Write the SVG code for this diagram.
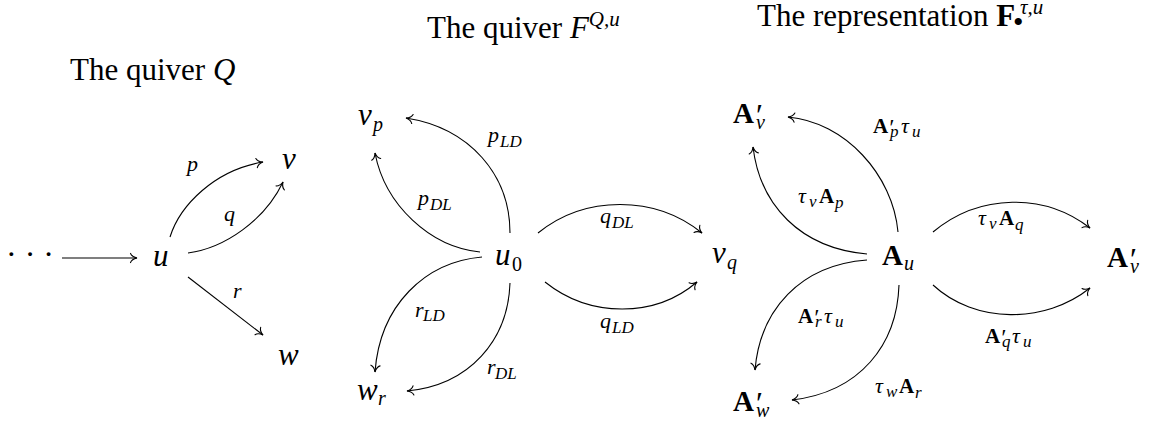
<svg xmlns="http://www.w3.org/2000/svg" width="1153" height="427" viewBox="0 0 1153 427">
<style>
text { font-family: "Liberation Serif", "Times New Roman", serif; fill: #000; }
.title { font-size: 31px; }
.m { font-size: 31px; }
.bm { font-size: 29px; font-weight: bold; }
.l { font-size: 22px; }
.bl { font-size: 21px; font-weight: bold; }
.i { font-style: italic; }
.b { font-weight: bold; font-style: normal; }
.s { font-size: 20px; font-style: italic; font-weight: normal; }
.ls { font-size: 17px; font-style: italic; font-weight: normal; }
.pr { font-size: 32px; font-style: italic; font-weight: normal; }
.lpr { font-size: 23px; font-style: italic; font-weight: normal; }
.edge { fill: none; stroke: #000; stroke-width: 1.1; marker-end: url(#to); }
</style>
<defs>
<marker id="to" viewBox="-9 -7 11 14" refX="0" refY="0" markerWidth="11" markerHeight="14" markerUnits="userSpaceOnUse" orient="auto">
<path d="M-6.5,-4.6 C-5.5,-1.8 -2.2,-0.5 0,0 C-2.2,0.5 -5.5,1.8 -6.5,4.6" fill="none" stroke="#000" stroke-width="1.1" stroke-linecap="round"/>
</marker>
</defs>
<rect width="1153" height="427" fill="#fff"/>

<g id="titles">
<text class="title" x="70" y="80">The quiver <tspan class="i">Q</tspan></text>
<text class="title" x="427" y="38">The quiver <tspan class="i">F</tspan><tspan class="i" font-size="21" dy="-12">Q,u</tspan></text>
<text class="title" x="757" y="26">The representation <tspan class="b">F</tspan><tspan font-size="30" x="1013" dy="6">•</tspan><tspan class="i" font-size="21" x="1020" dy="-18">τ,u</tspan></text>
</g>

<!-- Quiver Q -->
<g id="n-dots"><text x="6" y="265" style="font-size:32px">· · ·</text></g>
<g id="n-u"><text class="m i" x="153" y="266">u</text></g>
<g id="n-v"><text class="m i" x="282" y="169">v</text></g>
<g id="n-w"><text class="m i" x="278" y="365">w</text></g>

<!-- Quiver F^{Q,u} -->
<g id="n-vp"><text class="m i" x="358" y="125">v<tspan class="s" x="373" dy="6">p</tspan></text></g>
<g id="n-u0"><text class="m i" x="495" y="265">u<tspan class="s" x="512" dy="6" style="font-style:normal">0</tspan></text></g>
<g id="n-vq"><text class="m i" x="712" y="263">v<tspan class="s" x="727" dy="6">q</tspan></text></g>
<g id="n-wr"><text class="m i" x="357" y="400">w<tspan class="s" x="378" dy="5">r</tspan></text></g>

<!-- Representation -->
<g id="n-Av1"><text class="bm" x="733" y="123">A<tspan class="pr" x="754" dy="3">′</tspan><tspan class="s" x="756" dy="3">v</tspan></text></g>
<g id="n-Au"><text class="bm" x="882" y="265">A<tspan class="s" x="904" dy="5">u</tspan></text></g>
<g id="n-Av2"><text class="bm" x="1107" y="267">A<tspan class="pr" x="1128" dy="3">′</tspan><tspan class="s" x="1130" dy="3">v</tspan></text></g>
<g id="n-Aw"><text class="bm" x="733" y="411">A<tspan class="pr" x="754" dy="3">′</tspan><tspan class="s" x="756" dy="3">w</tspan></text></g>

<g id="connectors">
<!-- Quiver Q -->
<path class="edge" d="M62,258 L137,258"/>
<path class="edge" d="M170,237 C180,205 215,170 263,162"/>
<path class="edge" d="M188,253 C225,248 265,220 283,182"/>
<path class="edge" d="M188,277 L263,335"/>
<text class="l i" x="187" y="171">p</text>
<text class="l i" x="224" y="221">q</text>
<text class="l i" x="233" y="298">r</text>

<!-- Quiver F -->
<path class="edge" d="M510,233 C510,175 470,128 406,118"/>
<path class="edge" d="M480,252 C430,247 385,205 375,153"/>
<path class="edge" d="M538,233 C585,195 655,195 702,233"/>
<path class="edge" d="M545,282 C590,318 655,318 697,282"/>
<path class="edge" d="M482,257 C425,262 380,305 375,372"/>
<path class="edge" d="M510,283 C508,340 470,385 407,391"/>
<text class="l i" x="488" y="142">p<tspan class="ls" x="500" dy="5">LD</tspan></text>
<text class="l i" x="418" y="205">p<tspan class="ls" x="430" dy="5">DL</tspan></text>
<text class="l i" x="600" y="223">q<tspan class="ls" x="612" dy="5">DL</tspan></text>
<text class="l i" x="600" y="328">q<tspan class="ls" x="612" dy="5">LD</tspan></text>
<text class="l i" x="415" y="317">r<tspan class="ls" x="423" dy="4">LD</tspan></text>
<text class="l i" x="487" y="374">r<tspan class="ls" x="495" dy="5">DL</tspan></text>

<!-- Representation -->
<path class="edge" d="M898,232 C893,175 845,122 788,117"/>
<path class="edge" d="M867,254 C800,248 760,205 753,147"/>
<path class="edge" d="M933,232 C980,193 1045,193 1090,228"/>
<path class="edge" d="M933,285 C975,324 1045,324 1090,288"/>
<path class="edge" d="M867,260 C800,265 760,310 755,370"/>
<path class="edge" d="M899,285 C897,345 860,392 792,400"/>
<text class="bl" x="873" y="133">A<tspan class="lpr" x="888" dy="2">′</tspan><tspan class="ls" x="890" dy="2">p</tspan><tspan class="l i" style="font-weight:normal" x="901" dy="-4">τ</tspan><tspan class="ls" x="912" dy="4">u</tspan></text>
<text class="l i" x="798" y="203">τ<tspan class="ls" x="809" dy="4">v</tspan><tspan class="bl" style="font-style:normal" x="819" dy="-4">A</tspan><tspan class="ls" x="835" dy="5">p</tspan></text>
<text class="l i" x="978" y="225">τ<tspan class="ls" x="989" dy="4">v</tspan><tspan class="bl" style="font-style:normal" x="999" dy="-4">A</tspan><tspan class="ls" x="1015" dy="5">q</tspan></text>
<text class="bl" x="985" y="343">A<tspan class="lpr" x="1000" dy="2">′</tspan><tspan class="ls" x="1002" dy="2">q</tspan><tspan class="l i" style="font-weight:normal" x="1012" dy="-4">τ</tspan><tspan class="ls" x="1023" dy="4">u</tspan></text>
<text class="bl" x="798" y="323">A<tspan class="lpr" x="813" dy="2">′</tspan><tspan class="ls" x="815" dy="2">r</tspan><tspan class="l i" style="font-weight:normal" x="824" dy="-4">τ</tspan><tspan class="ls" x="835" dy="4">u</tspan></text>
<text class="l i" x="875" y="393">τ<tspan class="ls" x="886" dy="4">w</tspan><tspan class="bl" style="font-style:normal" x="899" dy="-4">A</tspan><tspan class="ls" x="915" dy="5">r</tspan></text>
</g>
</svg>
